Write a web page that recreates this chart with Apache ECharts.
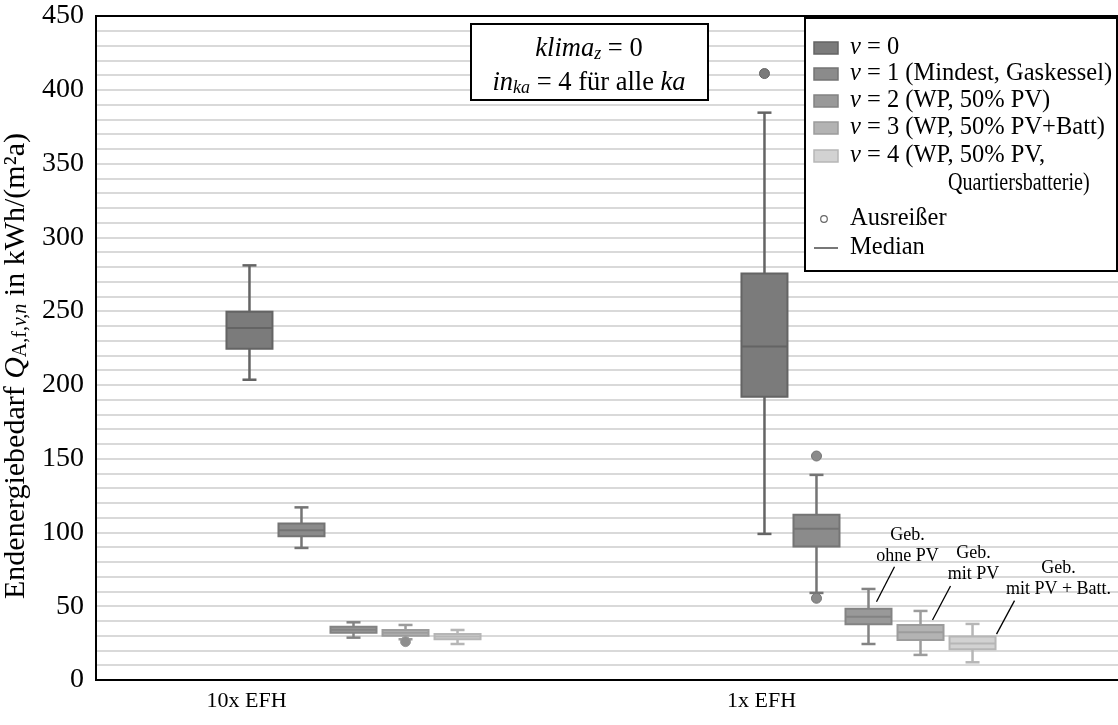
<!DOCTYPE html>
<html>
<head>
<meta charset="utf-8">
<script src="https://cdn.jsdelivr.net/npm/echarts@6/dist/echarts.min.js"></script>
<style>
  html, body { margin: 0; padding: 0; background: #fff; }
  #chart { width: 1118px; height: 725px; }
</style>
</head>
<body>
<div id="chart"></div>
<script>
// ---- data ----
const categories = ['10x EFH', '1x EFH'];
const yMin = 0, yMax = 450, yStep = 50;

// five-number summaries [min, q1, median, q3, max], one row per category
const v0Stats = [[203.5, 224.5, 238.5, 249.5, 281.0], [99.0, 192.0, 226.0, 275.5, 384.5]];
const v1Stats = [[89.5, 97.5, 101.5, 106.0, 117.0], [59.0, 90.5, 102.5, 112.0, 139.0]];
const v2Stats = [[28.7, 32.1, 34.1, 36.1, 39.1], [24.4, 37.7, 42.9, 48.3, 61.7]];
const v3Stats = [[27.6, 30.0, 32.0, 33.9, 37.3], [17.0, 27.1, 32.3, 37.3, 46.8]];
const v4Stats = [[24.4, 27.6, 29.5, 31.2, 33.9], [12.0, 20.8, 24.8, 29.4, 38.0]];

// outliers: [category index, variant, value]
const outliers = [[0, 3, 26.0], [1, 0, 411.0], [1, 1, 151.8], [1, 1, 55.4]];

const variantLabels = [
  '{i|v} = 0',
  '{i|v} = 1 (Mindest, Gaskessel)',
  '{i|v} = 2 (WP, 50% PV)',
  '{i|v} = 3 (WP, 50% PV+Batt)',
  '{i|v} = 4 (WP, 50% PV,\nQuartiersbatterie)'
];
const outlierLabel = 'Ausreißer';
const medianLabel = 'Median';

// callouts on the 1x EFH boxes: [variant, text]
const callouts = [[2, 'Geb.\nohne PV'], [3, 'Geb.\nmit PV'], [4, 'Geb.\nmit PV + Batt.']];

// ---- styling / layout ----
const SERIF = 'Liberation Serif';
const fills   = ['#7b7b7b', '#8b8b8b', '#999999', '#b3b3b3', '#d2d2d2'];
const strokes = ['#646464', '#747474', '#838383', '#9c9c9c', '#b6b6b6'];
const dotFill = ['#7a7a7a', '#8a8a8a', '#909090', '#8e8e8e', '#b0b0b0'];
const SLOT = 0.101;   // spacing between variants, fraction of a category band
const BOX_W = 46, CAP_W = 14;
const LEGEND_FS = 24.5;
const INFO_FS = 26.5;
// callout geometry relative to the box's upper-quartile point: line end, line start, text centre
const calloutGeom = [
  { x1: 8,  y1: -7,   x2: 26, y2: -42, tx: 39, ty: -63 },
  { x1: 12, y1: -5,   x2: 30, y2: -39, tx: 53, ty: -61 },
  { x1: 24, y1: -2.5, x2: 42, y2: -36, tx: 86, ty: -58 }
];

const stats = [v0Stats, v1Stats, v2Stats, v3Stats, v4Stats];

function centerX(api, c, v) {
  return api.coord([c, 0])[0] + (v - 2) * api.size([1, 0])[0] * SLOT;
}

const boxSeries = stats.map((s, v) => ({
  type: 'custom',
  name: 'v' + v,
  z: 3,
  encode: { x: 0, y: [1, 2, 3, 4, 5] },
  data: s.map((row, c) => [c].concat(row)),
  renderItem: (params, api) => {
    const c = api.value(0);
    const cx = centerX(api, c, v);
    const py = i => api.coord([c, api.value(i)])[1];
    const lo = py(1), q1 = py(2), md = py(3), q3 = py(4), hi = py(5);
    const ls = { stroke: strokes[v], lineWidth: 2.5 };
    return {
      type: 'group',
      children: [
        { type: 'line', shape: { x1: cx, y1: hi, x2: cx, y2: q3 }, style: ls },
        { type: 'line', shape: { x1: cx, y1: q1, x2: cx, y2: lo }, style: ls },
        { type: 'line', shape: { x1: cx - CAP_W / 2, y1: hi, x2: cx + CAP_W / 2, y2: hi }, style: ls },
        { type: 'line', shape: { x1: cx - CAP_W / 2, y1: lo, x2: cx + CAP_W / 2, y2: lo }, style: ls },
        { type: 'rect', shape: { x: cx - BOX_W / 2, y: q3, width: BOX_W, height: q1 - q3 },
          style: { fill: fills[v], stroke: strokes[v], lineWidth: 2 } },
        { type: 'line', shape: { x1: cx - BOX_W / 2, y1: md, x2: cx + BOX_W / 2, y2: md },
          style: { stroke: strokes[v], lineWidth: 2 } }
      ]
    };
  }
}));

const outlierSeries = {
  type: 'custom',
  name: outlierLabel,
  z: 4,
  encode: { x: 0, y: 2 },
  data: outliers,
  renderItem: (params, api) => {
    const c = api.value(0), v = api.value(1);
    const cx = centerX(api, c, v);
    const cy = api.coord([c, api.value(2)])[1];
    return { type: 'circle', shape: { cx: cx, cy: cy, r: 5 },
      style: { fill: dotFill[v], stroke: strokes[v], lineWidth: 1 } };
  }
};

const calloutSeries = {
  type: 'custom',
  name: 'callouts',
  z: 5,
  encode: { x: 0, y: 2 },
  data: callouts.map(([v]) => [1, v, stats[v][1][3]]),
  renderItem: (params, api) => {
    const c = api.value(0), v = api.value(1);
    const cx = centerX(api, c, v);
    const cy = api.coord([c, api.value(2)])[1];
    const g = calloutGeom[params.dataIndex];
    return {
      type: 'group',
      children: [
        { type: 'line', shape: { x1: cx + g.x1, y1: cy + g.y1, x2: cx + g.x2, y2: cy + g.y2 },
          style: { stroke: '#000', lineWidth: 1.3 } },
        { type: 'text', style: { text: callouts[params.dataIndex][1], x: cx + g.tx, y: cy + g.ty,
          align: 'center', verticalAlign: 'middle', fontFamily: SERIF, fontSize: 18,
          lineHeight: 21, fill: '#000' } }
      ]
    };
  }
};

// legend block
const legendLeft = 804, legendTop = 17;
const rowY = [30, 56, 83, 110, 138, 166, 201, 230];
const ZG = 30;
const legendChildren = [
  { type: 'rect', z: ZG, shape: { x: 0, y: 0, width: 312, height: 253 },
    style: { fill: '#fff', stroke: '#000', lineWidth: 2 } }
];
const richItalic = { i: { fontStyle: 'italic', fontFamily: SERIF, fontSize: LEGEND_FS } };
let row = 0;
variantLabels.forEach((label, v) => {
  const lines = label.split('\n');
  legendChildren.push({ type: 'rect', z: ZG + 1, shape: { x: 9, y: rowY[row] - 6, width: 24, height: 12 },
    style: { fill: fills[v], stroke: strokes[v], lineWidth: 1.5 } });
  lines.forEach((line, k) => {
    const tx = k === 0 ? 45 : 143;
    const el = { type: 'text', z: ZG + 1, style: { text: line, x: tx, y: rowY[row],
      verticalAlign: 'middle', align: 'left', fontFamily: SERIF, fontSize: LEGEND_FS, fill: '#000', rich: richItalic } };
    if (k > 0) { el.scaleX = 0.82; el.originX = tx; el.originY = rowY[row]; }
    legendChildren.push(el);
    row++;
  });
});
legendChildren.push({ type: 'circle', z: ZG + 1, shape: { cx: 19, cy: rowY[row], r: 3.3 },
  style: { fill: '#fff', stroke: '#666', lineWidth: 1.2 } });
legendChildren.push({ type: 'text', z: ZG + 1, style: { text: outlierLabel, x: 45, y: rowY[row], verticalAlign: 'middle',
  fontFamily: SERIF, fontSize: LEGEND_FS, fill: '#000' } });
row++;
legendChildren.push({ type: 'line', z: ZG + 1, shape: { x1: 9, y1: rowY[row], x2: 33, y2: rowY[row] },
  style: { stroke: '#777', lineWidth: 2 } });
legendChildren.push({ type: 'text', z: ZG + 1, style: { text: medianLabel, x: 45, y: rowY[row], verticalAlign: 'middle',
  fontFamily: SERIF, fontSize: LEGEND_FS, fill: '#000' } });

const mathRich = {
  m: { fontStyle: 'italic', fontFamily: SERIF, fontSize: INFO_FS },
  s: { fontStyle: 'italic', fontFamily: SERIF, fontSize: 18, verticalAlign: 'bottom', lineHeight: 21 }
};

const option = {
  animation: false,
  backgroundColor: '#fff',
  grid: {
    left: 96, right: -8, top: 16, bottom: 45,
    containLabel: false, outerBoundsMode: 'none',
    show: true, borderColor: '#000', borderWidth: 2, z: 6
  },
  xAxis: {
    type: 'category',
    data: categories,
    axisLine: { show: false },
    axisTick: { show: false },
    splitLine: { show: false },
    axisLabel: { fontFamily: SERIF, fontSize: 22, color: '#000', margin: 10, padding: [0, 214, 0, 0] }
  },
  yAxis: {
    type: 'value',
    min: yMin, max: yMax, interval: yStep,
    axisLine: { show: false },
    axisTick: { show: false },
    axisLabel: { fontFamily: SERIF, fontSize: 28, color: '#000', margin: 12 },
    splitLine: { show: true, lineStyle: { color: '#d9d9d9', width: 2 } },
    minorTick: { show: false, splitNumber: 5 },
    minorSplitLine: { show: true, lineStyle: { color: '#d9d9d9', width: 2 } },
    name: 'Endenergiebedarf {q|Q}{s|A,f,}{si|v,n} in kWh/(m²a)',
    nameLocation: 'middle',
    nameGap: 62,
    nameTextStyle: {
      fontFamily: SERIF, fontSize: 30, color: '#000', padding: [0, 36, 0, 0],
      rich: {
        q: { fontStyle: 'italic', fontFamily: SERIF, fontSize: 30 },
        s: { fontFamily: SERIF, fontSize: 20, verticalAlign: 'bottom', lineHeight: 24 },
        si: { fontStyle: 'italic', fontFamily: SERIF, fontSize: 20, verticalAlign: 'bottom', lineHeight: 24 }
      }
    }
  },
  graphic: [
    {
      type: 'group', left: 470, top: 23,
      children: [
        { type: 'rect', z: ZG, shape: { x: 0, y: 0, width: 237, height: 76 },
          style: { fill: '#fff', stroke: '#000', lineWidth: 2 } },
        { type: 'text', z: ZG + 1, style: { text: '{m|klima}{s|z} = 0', x: 118, y: 25, align: 'center',
          verticalAlign: 'middle', fontFamily: SERIF, fontSize: INFO_FS, lineHeight: 29, fill: '#000', rich: mathRich } },
        { type: 'text', z: ZG + 1, style: { text: '{m|in}{s|ka} = 4 für alle {m|ka}', x: 118, y: 59, align: 'center',
          verticalAlign: 'middle', fontFamily: SERIF, fontSize: INFO_FS, lineHeight: 29, fill: '#000', rich: mathRich } }
      ]
    },
    { type: 'group', left: legendLeft, top: legendTop, children: legendChildren }
  ],
  series: boxSeries.concat([outlierSeries, calloutSeries])
};

const chart = echarts.init(document.getElementById('chart'));
chart.setOption(option);
</script>
</body>
</html>
